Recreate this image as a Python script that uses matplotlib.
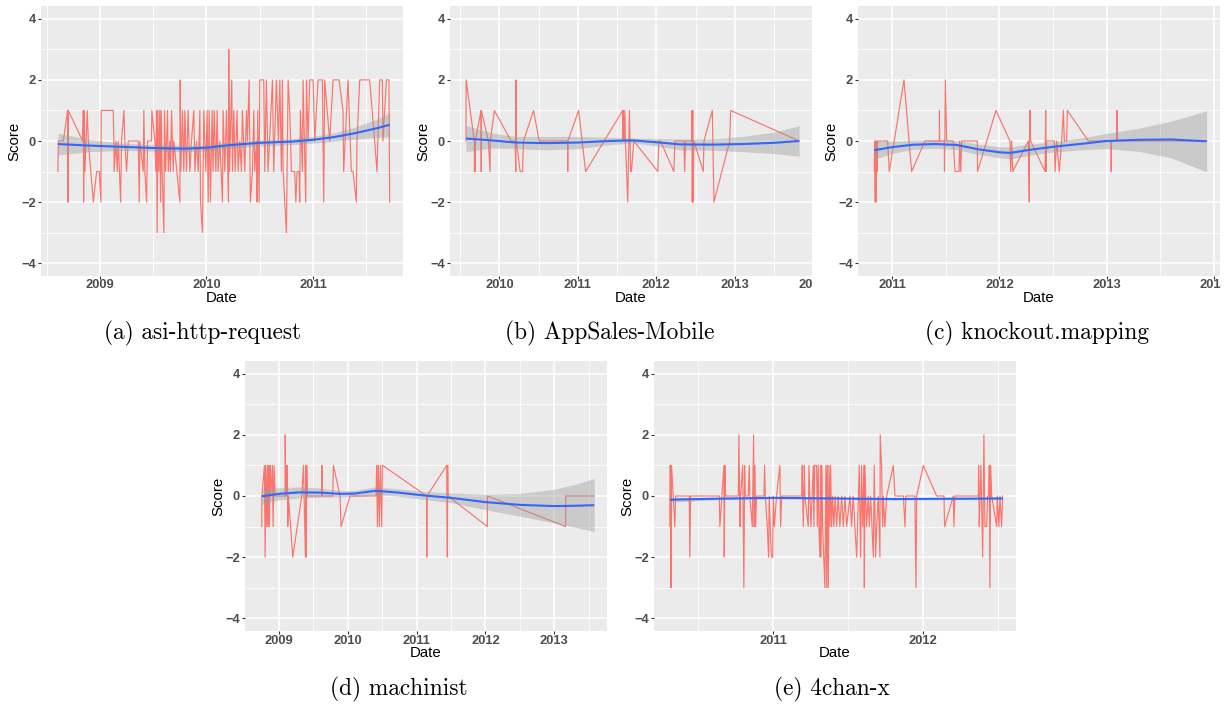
import numpy as np
import matplotlib
matplotlib.use("Agg")
import matplotlib.pyplot as plt
from matplotlib.transforms import Bbox, TransformedBbox, offset_copy

W, H = 1228, 704

# (a) asi-http-request
a_dates = [2008.606, 2008.609, 2008.656, 2008.697, 2008.700, 2008.703, 2008.838, 2008.844, 2008.847, 2008.853,
           2008.859, 2008.881, 2008.891, 2008.938, 2008.969, 2008.994, 2009.009, 2009.012, 2009.125, 2009.131,
           2009.133, 2009.150, 2009.162, 2009.172, 2009.194, 2009.203, 2009.225, 2009.234, 2009.250, 2009.266,
           2009.359, 2009.369, 2009.375, 2009.406, 2009.412, 2009.422, 2009.438, 2009.447, 2009.484, 2009.487,
           2009.516, 2009.525, 2009.531, 2009.537, 2009.544, 2009.553, 2009.562, 2009.569, 2009.575, 2009.584,
           2009.600, 2009.606, 2009.616, 2009.625, 2009.634, 2009.641, 2009.656, 2009.662, 2009.672, 2009.688,
           2009.694, 2009.750, 2009.753, 2009.759, 2009.775, 2009.787, 2009.797, 2009.812, 2009.828, 2009.844,
           2009.859, 2009.881, 2009.891, 2009.906, 2009.922, 2009.938, 2009.944, 2009.962, 2009.975, 2009.994,
           2010.006, 2010.016, 2010.025, 2010.037, 2010.053, 2010.062, 2010.072, 2010.088, 2010.100, 2010.109,
           2010.125, 2010.150, 2010.156, 2010.172, 2010.188, 2010.206, 2010.209, 2010.216, 2010.237, 2010.244,
           2010.256, 2010.269, 2010.287, 2010.297, 2010.312, 2010.328, 2010.337, 2010.359, 2010.375, 2010.384,
           2010.400, 2010.412, 2010.431, 2010.444, 2010.453, 2010.469, 2010.475, 2010.481, 2010.494, 2010.500,
           2010.537, 2010.547, 2010.562, 2010.578, 2010.619, 2010.631, 2010.656, 2010.675, 2010.688, 2010.703,
           2010.712, 2010.719, 2010.750, 2010.766, 2010.781, 2010.797, 2010.828, 2010.838, 2010.850, 2010.869,
           2010.875, 2010.881, 2010.900, 2010.906, 2010.931, 2010.938, 2010.953, 2010.969, 2011.000, 2011.016,
           2011.047, 2011.087, 2011.100, 2011.109, 2011.156, 2011.188, 2011.244, 2011.281, 2011.287, 2011.328,
           2011.359, 2011.375, 2011.406, 2011.412, 2011.438, 2011.484, 2011.531, 2011.578, 2011.600, 2011.625,
           2011.650, 2011.656, 2011.688, 2011.712, 2011.719]
a_scores = [-1, 0, 0, 1, -2, 1, 0, 1, -2, 1,
            -1, 1, 0, -2, -1, -1, -2, 1, 1, 0,
            -1, 0, -1, 0, -2, 0, 1, 0, -1, 0,
            0, -2, 0, -1, 1, -1, -2, 0, 0, 1,
            0, -1, 1, -3, 1, -1, 1, -2, 1, -1,
            -3, 1, -1, 0, 1, -1, 0, -1, 1, -1,
            0, -2, 2, -1, 1, -1, 1, -1, 1, -1,
            0, 1, -1, 0, -1, 1, -2, -3, 1, -1,
            1, -2, 1, -2, 1, -1, 1, -1, 1, -1,
            0, -2, 1, -1, 1, -2, 3, -1, 2, -1,
            1, -1, 1, -1, 0, -1, 1, -1, 1, 0,
            2, -2, -1, 1, -1, 0, -2, 1, -2, 2,
            2, -1, 2, -1, 2, -1, 2, 0, 2, -1,
            2, -1, -3, 2, 1, -1, -1, -2, -1, -1,
            -2, 1, -1, 2, -2, 2, 0, 2, 2, 0,
            2, 2, -2, 2, 0, 2, 2, 1, -1, 2,
            -1, -1, -2, 0, 2, 2, 2, 0, -1, 2,
            2, 0, 2, 2, -2]
a_fit_x = [2008.606, 2008.9, 2009.2, 2009.5, 2009.8, 2010.0, 2010.2, 2010.5, 2010.8, 2011.0, 2011.2, 2011.4, 2011.6, 2011.719]
a_fit_y = [-0.10, -0.15, -0.19, -0.23, -0.25, -0.22, -0.14, -0.06, -0.02, 0.04, 0.13, 0.26, 0.42, 0.53]
a_fit_se = [0.36, 0.20, 0.12, 0.10, 0.10, 0.10, 0.10, 0.10, 0.10, 0.11, 0.14, 0.20, 0.30, 0.40]

# (b) AppSales-Mobile
b_dates = [2009.574, 2009.576, 2009.680, 2009.682, 2009.685, 2009.689, 2009.692, 2009.766, 2009.768, 2009.770,
           2009.859, 2009.881, 2009.884, 2009.936, 2010.149, 2010.200, 2010.209, 2010.211, 2010.215, 2010.264,
           2010.294, 2010.307, 2010.435, 2010.507, 2010.869, 2010.871, 2010.873, 2011.010, 2011.099, 2011.572,
           2011.575, 2011.580, 2011.590, 2011.600, 2011.606, 2011.636, 2011.657, 2011.674, 2011.683, 2011.713,
           2012.020, 2012.032, 2012.054, 2012.224, 2012.237, 2012.352, 2012.361, 2012.373, 2012.450, 2012.456,
           2012.458, 2012.465, 2012.467, 2012.480, 2012.599, 2012.608, 2012.714, 2012.735, 2012.936, 2012.948,
           2013.822]
b_scores = [0, 2, 0, -1, 0, -1, 0, 1, -1, 1,
            0, -1, 0, 1, 0, 0, -1, 2, 0, -1,
            -1, 0, 1, 0, 0, -1, 0, 1, -1, 1,
            0, 1, 0, 1, 0, -2, 1, -1, -1, 0,
            -1, 0, 0, -1, 0, 0, -1, 0, 0, 1,
            -2, 1, -2, 0, -1, 0, 1, -2, 0, 1,
            0]
b_fit_x = [2009.574, 2009.9, 2010.2, 2010.6, 2011.0, 2011.4, 2011.7, 2012.0, 2012.3, 2012.7, 2013.1, 2013.5, 2013.822]
b_fit_y = [0.08, 0.02, -0.05, -0.07, -0.05, 0.0, 0.02, -0.04, -0.11, -0.12, -0.10, -0.06, 0.0]
b_fit_se = [0.43, 0.25, 0.20, 0.22, 0.20, 0.12, 0.08, 0.12, 0.18, 0.18, 0.25, 0.35, 0.50]

# (c) knockout.mapping
c_dates = [2010.832, 2010.835, 2010.838, 2010.841, 2010.845, 2010.848, 2010.852, 2010.857, 2010.863, 2010.956,
           2010.972, 2011.109, 2011.180, 2011.305, 2011.439, 2011.440, 2011.442, 2011.485, 2011.487, 2011.495,
           2011.507, 2011.569, 2011.585, 2011.622, 2011.628, 2011.638, 2011.647, 2011.793, 2011.795, 2011.967,
           2012.098, 2012.104, 2012.114, 2012.123, 2012.269, 2012.278, 2012.280, 2012.285, 2012.290, 2012.425,
           2012.431, 2012.434, 2012.440, 2012.512, 2012.518, 2012.533, 2012.558, 2012.580, 2012.596, 2012.605,
           2012.627, 2012.633, 2012.829, 2013.040, 2013.042, 2013.045, 2013.093, 2013.095, 2013.100, 2013.933]
c_scores = [-1, 0, -1, -2, 0, -2, 0, -1, 0, 0,
            -1, 2, -1, 0, 0, 1, 0, 0, -1, 2,
            0, 0, -1, -1, 0, -1, 0, 0, -1, 1,
            0, -1, 0, -1, 0, -2, 0, 1, 0, -1,
            1, -1, 0, 0, -1, 0, -1, 0, 1, 0,
            0, 1, 0, 0, -1, 0, 0, 1, 0, 0]
c_fit_x = [2010.832, 2011.0, 2011.2, 2011.4, 2011.6, 2011.8, 2012.0, 2012.1, 2012.3, 2012.5, 2012.8, 2013.0, 2013.3, 2013.6, 2013.933]
c_fit_y = [-0.30, -0.20, -0.12, -0.10, -0.13, -0.27, -0.37, -0.39, -0.28, -0.19, -0.08, 0.0, 0.04, 0.05, -0.01]
c_fit_se = [0.30, 0.20, 0.15, 0.14, 0.15, 0.17, 0.18, 0.20, 0.18, 0.17, 0.20, 0.25, 0.38, 0.60, 1.00]

# (d) machinist
d_dates = [2008.753, 2008.755, 2008.792, 2008.802, 2008.811, 2008.826, 2008.836, 2008.845, 2008.855, 2008.865,
           2008.874, 2008.884, 2008.908, 2008.918, 2008.932, 2008.947, 2009.092, 2009.094, 2009.100, 2009.106,
           2009.116, 2009.125, 2009.131, 2009.140, 2009.203, 2009.334, 2009.358, 2009.387, 2009.395, 2009.400,
           2009.406, 2009.416, 2009.624, 2009.626, 2009.634, 2009.784, 2009.793, 2009.890, 2009.904, 2010.035,
           2010.412, 2010.422, 2010.432, 2010.446, 2010.461, 2010.475, 2010.495, 2010.504, 2010.509, 2011.147,
           2011.149, 2011.152, 2011.438, 2011.447, 2011.452, 2011.457, 2012.028, 2012.030, 2013.164, 2013.166,
           2013.580]
d_scores = [-1, 0, 1, -2, 1, -1, 1, -1, 1, -1,
            1, 0, 1, -1, 1, 0, 0, 2, 0, 1,
            0, 1, -1, 0, -2, 0, 1, -2, 1, -2,
            1, 0, 0, 1, 0, 0, 1, 0, -1, 0,
            0, 1, -1, 1, -1, 1, -1, 1, 1, 0,
            -2, 0, 1, -2, 1, 0, -1, 0, -1, 0,
            0]
d_fit_x = [2008.753, 2009.0, 2009.3, 2009.6, 2009.9, 2010.1, 2010.4, 2010.7, 2011.1, 2011.5, 2012.0, 2012.5, 2013.0, 2013.3, 2013.58]
d_fit_y = [-0.01, 0.07, 0.12, 0.11, 0.07, 0.08, 0.17, 0.12, 0.02, -0.06, -0.20, -0.29, -0.33, -0.32, -0.30]
d_fit_se = [0.27, 0.20, 0.18, 0.15, 0.10, 0.10, 0.13, 0.12, 0.13, 0.16, 0.25, 0.37, 0.55, 0.70, 0.87]

# (e) 4chan-x
e_dates = [2010.311, 2010.313, 2010.316, 2010.318, 2010.322, 2010.344, 2010.349, 2010.440, 2010.444, 2010.449,
           2010.640, 2010.644, 2010.671, 2010.673, 2010.678, 2010.682, 2010.767, 2010.771, 2010.778, 2010.782,
           2010.796, 2010.804, 2010.809, 2010.813, 2010.833, 2010.840, 2010.844, 2010.860, 2010.869, 2010.873,
           2010.878, 2010.882, 2010.889, 2010.938, 2010.942, 2010.947, 2010.960, 2010.969, 2010.973, 2010.987,
           2010.996, 2011.000, 2011.007, 2011.022, 2011.044, 2011.049, 2011.056, 2011.189, 2011.193, 2011.200,
           2011.207, 2011.211, 2011.233, 2011.238, 2011.244, 2011.251, 2011.267, 2011.271, 2011.276, 2011.289,
           2011.293, 2011.300, 2011.304, 2011.311, 2011.316, 2011.318, 2011.324, 2011.329, 2011.344, 2011.351,
           2011.356, 2011.360, 2011.367, 2011.371, 2011.378, 2011.382, 2011.389, 2011.396, 2011.404, 2011.413,
           2011.422, 2011.433, 2011.444, 2011.456, 2011.467, 2011.478, 2011.489, 2011.511, 2011.522, 2011.533,
           2011.544, 2011.556, 2011.573, 2011.582, 2011.589, 2011.596, 2011.604, 2011.607, 2011.611, 2011.622,
           2011.633, 2011.640, 2011.649, 2011.667, 2011.673, 2011.682, 2011.689, 2011.700, 2011.711, 2011.713,
           2011.722, 2011.729, 2011.733, 2011.744, 2011.756, 2011.800, 2011.811, 2011.867, 2011.878, 2011.884,
           2011.944, 2011.951, 2011.956, 2012.000, 2012.089, 2012.138, 2012.142, 2012.200, 2012.204, 2012.211,
           2012.367, 2012.369, 2012.373, 2012.378, 2012.384, 2012.396, 2012.404, 2012.411, 2012.422, 2012.429,
           2012.436, 2012.440, 2012.444, 2012.449, 2012.456, 2012.489, 2012.493, 2012.504, 2012.511, 2012.522,
           2012.529]
e_scores = [1, -1, 1, -3, 1, -1, 0, 0, -2, 0,
            0, -1, 1, -2, 1, 0, 0, 2, -1, 0,
            1, -3, 1, 0, 0, 1, 0, -1, 2, -1,
            1, -1, 0, 0, 1, 0, -1, -2, 0, -2,
            -2, 0, -1, 0, 1, -1, 0, 0, 1, -1,
            1, 0, -1, 1, 0, -1, 1, -1, 1, 1,
            -1, 1, -1, -2, 1, -2, 1, -1, -3, 1,
            -3, 1, -3, 1, -1, 1, -1, 0, -1, 0,
            -1, 0, -1, 0, -1, 0, -1, 0, -1, 0,
            -1, -2, 1, -2, 1, -1, 1, -3, 1, -1,
            0, -1, 0, -2, 1, -2, -1, 0, -2, 2,
            1, -1, 0, -1, 0, 1, 0, 0, -1, 0,
            0, -3, 0, 1, 0, 0, -1, 0, -1, 0,
            0, 1, -1, 0, 1, -2, 2, -1, -1, 0,
            0, 1, -3, 1, 0, -1, 0, -1, 0, -1,
            0]
e_fit_x = [2010.311, 2010.6, 2011.0, 2011.4, 2011.8, 2012.2, 2012.529]
e_fit_y = [-0.12, -0.09, -0.06, -0.08, -0.10, -0.09, -0.08]
e_fit_se = [0.08, 0.04, 0.03, 0.03, 0.03, 0.03, 0.04]

captions = ["(a) asi-http-request", "(b) AppSales-Mobile", "(c) knockout.mapping",
            "(d) machinist", "(e) 4chan-x"]

BG = "#EBEBEB"
RED = "#F8766D"
BLUE = "#3366FF"
TICKC = "#4D4D4D"
PW, PH = 362, 270

fig = plt.figure(figsize=(W / 100, H / 100), dpi=100)


def fx(px):
    return px / W


def fy(py):
    return 1 - py / H


def panel(left, top, dates, scores, fit_x, fit_y, fit_se, xlim, years):
    ax = fig.add_axes([fx(left), fy(top + PH), PW / W, PH / H])
    ax.set_facecolor(BG)
    for s in ax.spines.values():
        s.set_visible(False)

    ax.plot(dates, scores, color=RED, lw=0.85, zorder=3)
    fit_x = np.array(fit_x)
    fit_y = np.array(fit_y)
    fit_se = np.array(fit_se)
    ax.fill_between(fit_x, fit_y - fit_se, fit_y + fit_se, color="#999999", alpha=0.4, lw=0, zorder=4)
    ax.plot(fit_x, fit_y, color=BLUE, lw=1.5, zorder=5, solid_capstyle="butt")

    ax.set_xlim(*xlim)
    ax.set_ylim(-4.42, 4.42)
    inside = [y for y in years if xlim[0] <= y <= xlim[1]]
    ax.set_xticks(inside)
    halves = [y - 0.5 for y in range(int(xlim[0]), int(xlim[1]) + 2) if xlim[0] <= y - 0.5 <= xlim[1]]
    ax.set_xticks(halves, minor=True)
    ax.set_yticks([-4, -2, 0, 2, 4])
    ax.set_yticklabels(["\u22124", "\u22122", "0", "2", "4"], fontsize=9.3,
                       fontweight="bold", color=TICKC, family="Liberation Sans")
    ax.set_yticks([-3, -1, 1, 3], minor=True)
    ax.tick_params(which="major", length=2.2, width=0.8, color="#333333", pad=1.5)
    ax.tick_params(which="minor", length=0)
    ax.tick_params(axis="x", labelbottom=False)
    ax.grid(which="major", color="white", lw=1.1)
    ax.grid(which="minor", color="white", lw=0.55)
    ax.set_axisbelow(True)

    # year labels, clipped at the edge of the panel like the cropped original
    clip = TransformedBbox(Bbox.from_extents(fx(left - 40), 0, fx(left + PW + 1), 1), fig.transFigure)
    tr = offset_copy(ax.get_xaxis_transform(), fig=fig, y=-3.5, units="dots")
    for y in years:
        t = ax.text(y, 0, str(y), transform=tr, ha="center", va="top", fontsize=9.3,
                    fontweight="bold", color=TICKC, family="Liberation Sans")
        t.set_clip_box(clip)
        t.set_clip_on(True)

    fig.text(fx(left + PW / 2), fy(top + PH + 22), "Date", ha="center", va="center",
             fontsize=10.8, family="Liberation Sans")
    fig.text(fx(left - 27), fy(top + PH / 2), "Score", ha="center", va="center",
             rotation=90, fontsize=10.8, family="Liberation Sans")
    return ax


panel(41, 6, a_dates, a_scores, a_fit_x, a_fit_y, a_fit_se, (2008.447, 2011.844), [2009, 2010, 2011])
panel(450, 6, b_dates, b_scores, b_fit_x, b_fit_y, b_fit_se, (2009.37, 2013.985), [2010, 2011, 2012, 2013, 2014])
panel(858, 6, c_dates, c_scores, c_fit_x, c_fit_y, c_fit_se, (2010.68, 2014.057), [2011, 2012, 2013, 2014])
panel(245, 361, d_dates, d_scores, d_fit_x, d_fit_y, d_fit_se, (2008.51, 2013.765), [2009, 2010, 2011, 2012, 2013])
panel(654, 361, e_dates, e_scores, e_fit_x, e_fit_y, e_fit_se, (2010.205, 2012.618), [2011, 2012])

cap_pos = [(202, 333), (610, 333), (1037, 333), (399, 689), (832, 689)]
for (cx, cy), txt in zip(cap_pos, captions):
    fig.text(fx(cx), fy(cy), txt, ha="center", va="center", fontsize=16.8, family="cmr10")

fig.savefig("out.png", dpi=100, facecolor="white")
